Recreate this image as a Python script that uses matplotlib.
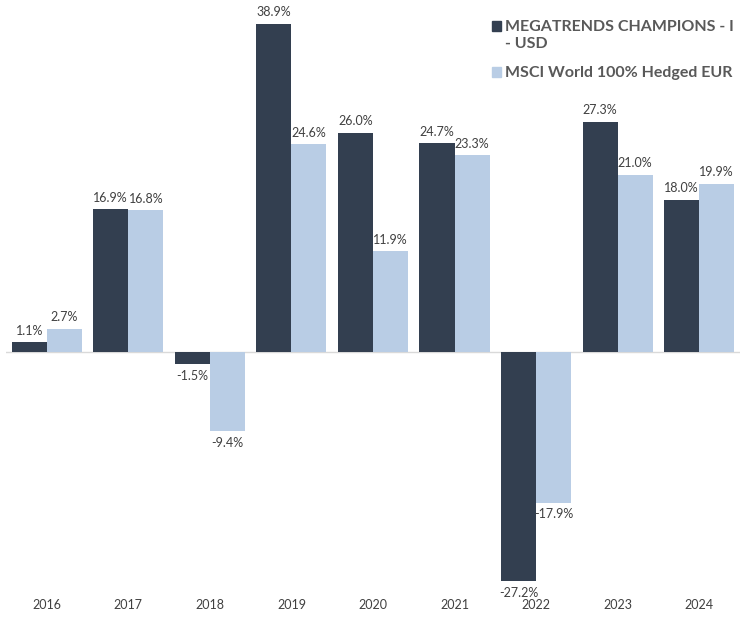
import matplotlib
matplotlib.use("Agg")
import matplotlib.pyplot as plt
from matplotlib.patches import Rectangle
import numpy as np

years = ["2016", "2017", "2018", "2019", "2020", "2021", "2022", "2023", "2024"]
fund = [1.1, 16.9, -1.5, 38.9, 26.0, 24.7, -27.2, 27.3, 18.0]
index = [2.7, 16.8, -9.4, 24.6, 11.9, 23.3, -17.9, 21.0, 19.9]
series_names = ["MEGATRENDS CHAMPIONS - I\n- USD", "MSCI World 100% Hedged EUR"]

dark = "#333F50"
light = "#B9CDE5"
txt = "#404040"

plt.rcParams['font.family'] = ['Lato', 'DejaVu Sans']

W, H = 744, 629
fig = plt.figure(figsize=(W / 100, H / 100), dpi=100)
ax = fig.add_axes([0.008, 0.0588, 0.9866, 0.9316])

x = np.arange(len(years))
w = 0.43
b1 = ax.bar(x - w / 2, fund, w, color=dark, zorder=3)
b2 = ax.bar(x + w / 2, index, w, color=light, zorder=3)

for bars, vals in ((b1, fund), (b2, index)):
    for r, v in zip(bars, vals):
        cx = r.get_x() + r.get_width() / 2
        if v >= 0:
            ax.annotate(f"{v:.1f}%", (cx, v), xytext=(0, 4), textcoords="offset points",
                        ha="center", va="bottom", fontsize=9, color=txt)
        else:
            ax.annotate(f"{v:.1f}%", (cx, v), xytext=(0, -4), textcoords="offset points",
                        ha="center", va="top", fontsize=9, color=txt)

ax.axhline(0, color="#D9D9D9", lw=1, zorder=2)
ax.set_xlim(-0.5, len(years) - 0.5)
ax.set_ylim(-28.5, 41)
ax.set_xticks(x)
ax.set_xticklabels(years, fontsize=9, color=txt)
ax.tick_params(axis="x", length=0, pad=5)
ax.set_yticks([])
for s in ax.spines.values():
    s.set_visible(False)

# legend drawn manually (square aligned with first text line)
leg_x_px = 492
text_x_px = 505
first_line_px = [25, 71]
sq = 9
for name, col, ypx in zip(series_names, (dark, light), first_line_px):
    fig.patches.append(Rectangle((leg_x_px / W, 1 - (ypx + 1 + sq / 2) / H), sq / W, sq / H,
                                 transform=fig.transFigure, color=col))
    fig.text(text_x_px / W, 1 - (ypx - 5) / H, name, ha="left", va="top",
             fontsize=11.5, fontweight="bold", color="#595959", linespacing=1.25)

fig.savefig("out.png", dpi=100)
